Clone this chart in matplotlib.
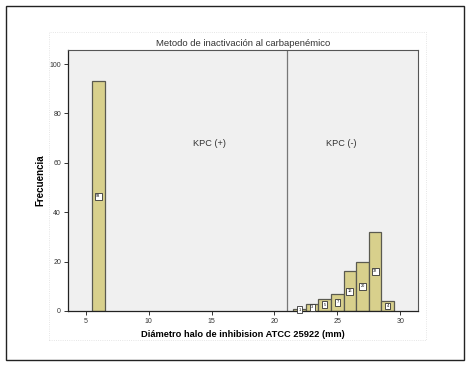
import matplotlib
matplotlib.use("Agg")
import matplotlib.pyplot as plt
from matplotlib.patches import Rectangle

# histogram counts (bins of width 1 centred on integers)
diam = [6, 22, 23, 24, 25, 26, 27, 28, 29]
freq = [93, 1, 3, 5, 7, 16, 20, 32, 4]
xticks = [5, 10, 15, 20, 25, 30]
yticks = [0, 20, 40, 60, 80, 100]

plt.rcParams["font.family"] = ["Liberation Sans", "DejaVu Sans"]

fig = plt.figure(figsize=(4.71, 3.72), dpi=100)
ax = fig.add_axes([0.1444, 0.164, 0.7431, 0.7016])
ax.set_facecolor("#f0f0f0")

# outer frame of the picture
fig.patches.append(Rectangle((0.0138, 0.032), 0.972, 0.952, transform=fig.transFigure,
                             fill=False, edgecolor="#222222", linewidth=1.0))
# dotted chart area boundary
fig.patches.append(Rectangle((0.105, 0.085), 0.80, 0.83, transform=fig.transFigure,
                             fill=False, edgecolor="#dddddd", linewidth=0.6, linestyle=":"))

ax.bar(diam, freq, width=1.0, color="#d8d08c", edgecolor="#5a5a50", linewidth=0.9, zorder=2)

# small count boxes in the middle of each bar
for x, f in zip(diam, freq):
    ax.text(x, f / 2, str(f), fontsize=2.8, ha="center", va="center", zorder=3,
            bbox=dict(boxstyle="square,pad=0.35", facecolor="white", edgecolor="#333333", linewidth=0.6))

ax.axvline(21, color="#777777", linewidth=0.9, zorder=1)
ax.text(14.8, 67.8, "KPC (+)", fontsize=6.6, ha="center", va="center", color="#333333")
ax.text(25.3, 67.8, "KPC (-)", fontsize=6.6, ha="center", va="center", color="#333333")

ax.set_xlim(3.58, 31.42)
ax.set_ylim(0, 105.7)
ax.set_xticks(xticks)
ax.set_yticks(yticks)
ax.tick_params(labelsize=5, length=3, width=0.7, colors="#333333", pad=2)

for s in ["top", "right"]:
    ax.spines[s].set_color("#555555")
    ax.spines[s].set_linewidth(0.8)
ax.spines["left"].set_color("#222222")
ax.spines["bottom"].set_color("#222222")
ax.spines["left"].set_linewidth(0.9)
ax.spines["bottom"].set_linewidth(0.9)

ax.set_title("Metodo de inactivación al carbapenémico", fontsize=6.8, color="#333333", pad=3)
ax.set_xlabel("Diámetro halo de inhibision ATCC 25922 (mm)", fontsize=6.7, fontweight="bold", labelpad=4)
ax.set_ylabel("Frecuencia", fontsize=7, fontweight="bold", labelpad=3)

fig.savefig("out.png", dpi=100)
